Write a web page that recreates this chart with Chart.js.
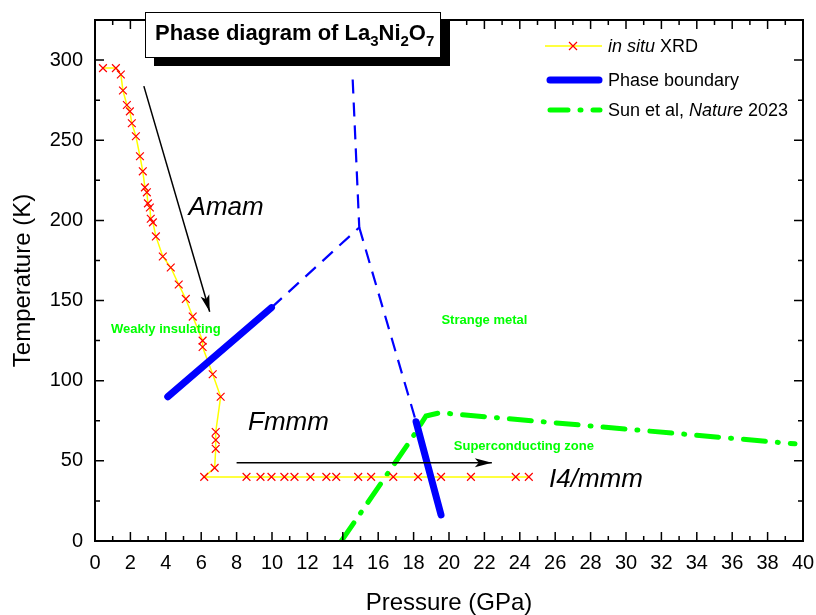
<!DOCTYPE html>
<html>
<head>
<meta charset="utf-8">
<script src="https://cdn.jsdelivr.net/npm/chart.js@4"></script>
<style>
  html, body { margin: 0; padding: 0; background: #fff; }
</style>
</head>
<body>
<canvas id="chart" width="816" height="615"></canvas>
<script>
// in situ XRD points (pressure GPa, temperature K)
const xrdP = [0.45, 1.18, 1.46, 1.58, 1.8, 1.97, 2.08, 2.31, 2.54, 2.7, 2.82, 2.93, 2.99, 3.1, 3.15, 3.27, 3.44,
  3.83, 4.28, 4.73, 5.13, 5.52, 6.08, 6.08, 6.65, 7.1, 6.82, 6.82, 6.82, 6.76,
  6.17, 8.56, 9.35, 9.97, 10.7, 11.27, 12.17, 13.07, 13.63, 14.87, 15.6, 16.85, 18.25, 19.55, 21.24, 23.77, 24.51];
const xrdT = [295, 295, 291, 281, 272, 268, 260.6, 252.5, 240, 230.6, 220.6, 217.5, 210.6, 208, 201, 198.75, 190,
  177.5, 170.6, 160, 151, 140, 125, 121, 104, 90, 68, 63, 57.5, 45.6,
  40, 40, 40, 40, 40, 40, 40, 40, 40, 40, 40, 40, 40, 40, 40, 40, 40];

// phase boundary, solid parts
const boundaryLowP = [4.11, 9.97];
const boundaryLowT = [90, 145.6];
const boundaryHighP = [18.14, 19.55];
const boundaryHighT = [74.4, 16.3];

// phase boundary, dashed parts
const dashUpperP = [9.97, 14.93, 14.55];
const dashUpperT = [145.6, 195.6, 290];
const dashLowerP = [14.93, 18.14];
const dashLowerT = [195.6, 74.4];

// Sun et al, Nature 2023
const sunP = [13.92, 17.9, 18.7, 19.5, 39.55];
const sunT = [0, 64, 78, 80, 60.6];

// arrows
const arrowAP = [2.76, 6.48];
const arrowAT = [283.75, 143];
const arrowBP = [8.0, 22.42];
const arrowBT = [48.75, 48.75];

// text labels in the plot
const labelText = ['Amam', 'Fmmm', 'I4/mmm', 'Weakly insulating', 'Strange metal', 'Superconducting zone'];
const labelP = [7.41, 10.93, 28.3, 4.0, 22.0, 24.23];
const labelT = [208, 73.75, 38, 131.9, 137.5, 58.9];

const FONT = "'Liberation Sans', Arial, sans-serif";
const BLUE = '#0000ff';
const GREEN = '#00ff00';

function pts(P, T) {
  return P.map((p, i) => ({ x: p, y: T[i] }));
}

const arrowHeads = {
  id: 'arrowHeads',
  afterDatasetsDraw(chart) {
    const ctx = chart.ctx;
    chart.data.datasets.forEach((ds, i) => {
      if (!ds.arrow) return;
      const pts = chart.getDatasetMeta(i).data;
      const a = pts[pts.length - 2], b = pts[pts.length - 1];
      const ang = Math.atan2(b.y - a.y, b.x - a.x);
      ctx.save();
      ctx.translate(b.x, b.y);
      ctx.rotate(ang);
      ctx.fillStyle = '#000';
      ctx.beginPath();
      ctx.moveTo(0, 0);
      ctx.lineTo(-17, -4.5);
      ctx.lineTo(-13, 0);
      ctx.lineTo(-17, 4.5);
      ctx.closePath();
      ctx.fill();
      ctx.restore();
    });
  }
};

const decorations = {
  id: 'decorations',
  afterDraw(chart) {
    const ctx = chart.ctx;
    const { left, right, top, bottom } = chart.chartArea;
    const xs = chart.scales.x, ys = chart.scales.y;

    // frame and inward ticks
    ctx.save();
    ctx.strokeStyle = '#000';
    ctx.lineWidth = 2;
    ctx.strokeRect(left, top, right - left, bottom - top);
    ctx.lineWidth = 1.5;
    ctx.beginPath();
    for (let p = 0; p <= 40; p++) {
      const px = xs.getPixelForValue(p);
      const len = p % 2 === 0 ? 9 : 5;
      ctx.moveTo(px, bottom); ctx.lineTo(px, bottom - len);
      ctx.moveTo(px, top); ctx.lineTo(px, top + len);
    }
    for (let t = 0; t <= 325; t += 25) {
      const py = ys.getPixelForValue(t);
      const len = t % 50 === 0 ? 9 : 5;
      ctx.moveTo(left, py); ctx.lineTo(left + len, py);
      ctx.moveTo(right, py); ctx.lineTo(right - len, py);
    }
    ctx.stroke();
    ctx.restore();

    // labels inside the plot
    ctx.save();
    ctx.textAlign = 'center';
    ctx.textBaseline = 'middle';
    labelText.forEach((txt, i) => {
      if (i < 3) {
        ctx.font = 'italic 26px ' + FONT;
        ctx.fillStyle = '#000';
      } else {
        ctx.font = 'bold 13px ' + FONT;
        ctx.fillStyle = GREEN;
      }
      ctx.fillText(txt, xs.getPixelForValue(labelP[i]), ys.getPixelForValue(labelT[i]));
    });
    ctx.restore();

    // legend
    ctx.save();
    const lx0 = 545, lx1 = 602, tx = 608;
    const rows = [46, 80, 110];
    ctx.lineCap = 'butt';
    ctx.strokeStyle = '#ffff00';
    ctx.lineWidth = 1.5;
    ctx.beginPath(); ctx.moveTo(lx0, rows[0]); ctx.lineTo(lx1, rows[0]); ctx.stroke();
    ctx.strokeStyle = '#ff0000';
    ctx.lineWidth = 1.2;
    const cx = 573, r = 4;
    ctx.beginPath();
    ctx.moveTo(cx - r, rows[0] - r); ctx.lineTo(cx + r, rows[0] + r);
    ctx.moveTo(cx - r, rows[0] + r); ctx.lineTo(cx + r, rows[0] - r);
    ctx.stroke();
    ctx.lineCap = 'round';
    ctx.strokeStyle = BLUE;
    ctx.lineWidth = 7;
    ctx.beginPath(); ctx.moveTo(550, rows[1]); ctx.lineTo(599, rows[1]); ctx.stroke();
    ctx.strokeStyle = GREEN;
    ctx.lineWidth = 5;
    ctx.setLineDash([18, 12, 1, 12]);
    ctx.beginPath(); ctx.moveTo(550, rows[2]); ctx.lineTo(600, rows[2]); ctx.stroke();
    ctx.setLineDash([]);

    ctx.fillStyle = '#000';
    ctx.textBaseline = 'middle';
    ctx.textAlign = 'left';
    const parts = [
      [['italic', 'in situ'], ['', ' XRD']],
      [['', 'Phase boundary']],
      [['', 'Sun et al, '], ['italic', 'Nature'], ['', ' 2023']]
    ];
    parts.forEach((row, i) => {
      let x = tx;
      row.forEach(([style, s]) => {
        ctx.font = (style ? style + ' ' : '') + '18px ' + FONT;
        ctx.fillText(s, x, rows[i] + 1);
        x += ctx.measureText(s).width;
      });
    });
    ctx.restore();

    // title box
    ctx.save();
    ctx.fillStyle = '#000';
    ctx.fillRect(154, 21, 296, 45);
    ctx.fillStyle = '#fff';
    ctx.fillRect(145, 12, 296, 45);
    ctx.strokeStyle = '#000';
    ctx.lineWidth = 1;
    ctx.strokeRect(145.5, 12.5, 295, 45);
    ctx.fillStyle = '#000';
    ctx.textBaseline = 'alphabetic';
    ctx.textAlign = 'left';
    const tparts = [['Phase diagram of La', 0], ['3', 1], ['Ni', 0], ['2', 1], ['O', 0], ['7', 1]];
    let x = 155;
    tparts.forEach(([s, sub]) => {
      ctx.font = sub ? 'bold 15px ' + FONT : 'bold 22px ' + FONT;
      ctx.fillText(s, x, sub ? 46 : 40);
      x += ctx.measureText(s).width;
    });
    ctx.restore();
  }
};

Chart.defaults.font.family = FONT;
Chart.defaults.color = '#000';

new Chart(document.getElementById('chart'), {
  type: 'scatter',
  data: {
    datasets: [
      {
        label: 'arrow A', data: pts(arrowAP, arrowAT), showLine: true, arrow: true,
        borderColor: '#000', borderWidth: 1.5, pointRadius: 0, order: 0
      },
      {
        label: 'arrow B', data: pts(arrowBP, arrowBT), showLine: true, arrow: true,
        borderColor: '#000', borderWidth: 1.5, pointRadius: 0, order: 0
      },
      {
        label: 'Phase boundary', data: pts(boundaryLowP, boundaryLowT), showLine: true,
        borderColor: BLUE, borderWidth: 7, borderCapStyle: 'round', pointRadius: 0, order: 1
      },
      {
        label: 'Phase boundary 2', data: pts(boundaryHighP, boundaryHighT), showLine: true,
        borderColor: BLUE, borderWidth: 7, borderCapStyle: 'round', pointRadius: 0, order: 1
      },
      {
        label: 'dashed upper', data: pts(dashUpperP, dashUpperT), showLine: true,
        borderColor: BLUE, borderWidth: 2.2, borderDash: [14, 9], pointRadius: 0, order: 2
      },
      {
        label: 'dashed lower', data: pts(dashLowerP, dashLowerT), showLine: true,
        borderColor: BLUE, borderWidth: 2.2, borderDash: [14, 9], pointRadius: 0, order: 2
      },
      {
        label: 'in situ XRD', data: pts(xrdP, xrdT), showLine: true,
        borderColor: '#ffff00', borderWidth: 1.5,
        pointStyle: 'crossRot', pointRadius: 5.5, pointBorderColor: '#ff0000', pointBorderWidth: 1.2,
        order: 3
      },
      {
        label: 'Sun et al, Nature 2023', data: pts(sunP, sunT), showLine: true,
        borderColor: GREEN, borderWidth: 5, borderCapStyle: 'round', borderDash: [22, 12, 1, 12],
        pointRadius: 0, order: 4
      }
    ]
  },
  options: {
    responsive: false,
    animation: false,
    layout: { padding: { top: 20, right: 13, left: 0, bottom: 0 } },
    plugins: {
      legend: { display: false },
      tooltip: { enabled: false }
    },
    scales: {
      x: {
        type: 'linear', min: 0, max: 40,
        grid: { display: false, drawTicks: false },
        border: { display: false },
        ticks: { stepSize: 2, autoSkip: false, maxRotation: 0, padding: 10, font: { size: 20 } },
        title: { display: true, text: 'Pressure (GPa)', font: { size: 24, lineHeight: 1 }, padding: 0 },
        afterFit(scale) {
          scale.height = 74;
          scale.paddingLeft = 0;
          scale.paddingRight = 0;
        }
      },
      y: {
        type: 'linear', min: 0, max: 325,
        grid: { display: false, drawTicks: false },
        border: { display: false },
        ticks: { stepSize: 50, includeBounds: false, padding: 12, font: { size: 20 } },
        title: { display: true, text: 'Temperature (K)', font: { size: 24, lineHeight: 1 }, padding: { top: 11, bottom: 0 } },
        afterFit(scale) {
          scale.width = 95;
          scale.paddingTop = 0;
          scale.paddingBottom = 0;
        }
      }
    }
  },
  plugins: [arrowHeads, decorations]
});
</script>
</body>
</html>
